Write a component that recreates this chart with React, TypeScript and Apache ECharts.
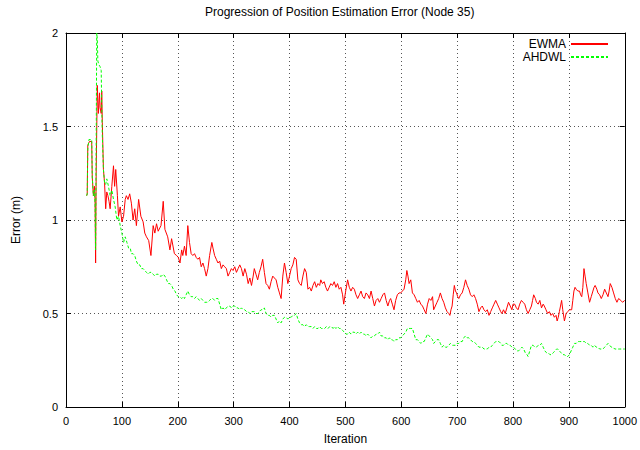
import React, { useEffect, useRef } from "react";
import * as echarts from "echarts";

const titleText = "Progression of Position Estimation Error (Node 35)";
const xName = "Iteration";
const yName = "Error (m)";
const seriesNames = ["EWMA", "AHDWL"];

const ewmaIter = [37,38,39,42,46,47,49,51,52,53,54,56,58,60,61,63,64,65,67,69,71,73,75,77,79,82,85,87,89,92,94,97,100,103,106,108,111,114,117,120,123,126,130,134,138,141,144,148,152,156,159,162,165,170,174,177,182,186,189,194,198,201,204,207,209,212,215,218,221,224,227,230,233,236,239,242,245,248,251,254,257,261,263,266,269,272,275,278,281,284,287,290,293,296,299,302,305,308,311,314,317,320,323,326,329,332,335,337,340,343,346,349,352,355,358,361,364,367,370,373,376,379,382,385,388,391,394,397,400,403,406,409,412,415,418,421,424,427,430,433,436,439,442,445,448,451,454,456,459,462,465,468,471,474,477,480,483,486,489,492,495,497,500,504,507,510,513,516,519,522,525,528,531,534,537,540,543,546,549,552,555,558,561,564,567,570,573,576,579,581,584,587,590,593,596,599,602,605,608,610,612,614,617,620,623,626,629,632,635,638,641,644,647,650,653,656,658,661,664,667,670,673,676,679,682,685,687,689,691,693,695,697,699,701,703,706,709,712,715,718,721,724,727,730,733,736,739,742,745,748,751,754,757,760,763,766,769,772,775,778,780,783,786,789,792,795,798,800,803,806,809,812,815,818,821,824,827,830,833,835,837,840,842,845,848,851,854,856,859,862,865,868,871,874,877,879,881,883,885,887,889,892,895,898,901,905,907,909,911,913,916,919,921,923,925,927,929,931,934,937,940,943,945,947,950,952,955,958,961,964,967,970,972,974,977,980,983,986,989,993,996,1000];
const ewmaErr = [1.13,1.14,1.40,1.42,1.42,1.23,1.13,1.18,1.10,0.77,1.25,1.72,1.57,1.68,1.60,1.57,1.69,1.52,1.27,1.20,1.06,1.15,1.13,1.10,1.06,1.18,1.29,1.18,1.27,1.13,1.02,1.07,0.99,1.02,1.11,1.13,1.11,1.14,1.09,1.00,1.06,0.97,1.11,1.02,0.99,0.93,0.91,0.89,0.81,0.97,0.93,0.98,0.94,0.97,1.10,0.95,0.91,0.84,0.90,0.82,0.81,0.80,0.77,0.84,0.81,0.86,0.81,0.97,0.88,0.82,0.81,0.82,0.80,0.79,0.80,0.75,0.77,0.74,0.70,0.74,0.81,0.88,0.85,0.81,0.79,0.77,0.78,0.74,0.76,0.75,0.74,0.70,0.72,0.74,0.73,0.75,0.72,0.74,0.76,0.74,0.70,0.74,0.71,0.66,0.69,0.65,0.70,0.74,0.71,0.68,0.72,0.75,0.79,0.72,0.66,0.65,0.63,0.67,0.70,0.69,0.68,0.64,0.61,0.58,0.70,0.77,0.72,0.66,0.70,0.74,0.76,0.80,0.79,0.68,0.66,0.65,0.70,0.74,0.72,0.63,0.64,0.62,0.65,0.67,0.64,0.66,0.65,0.68,0.66,0.67,0.64,0.62,0.64,0.66,0.65,0.67,0.64,0.66,0.63,0.64,0.60,0.55,0.61,0.68,0.64,0.62,0.64,0.63,0.60,0.58,0.60,0.62,0.59,0.58,0.61,0.60,0.58,0.62,0.58,0.54,0.57,0.58,0.56,0.58,0.60,0.61,0.57,0.54,0.57,0.58,0.55,0.52,0.57,0.60,0.61,0.61,0.62,0.63,0.68,0.73,0.70,0.66,0.68,0.61,0.60,0.58,0.56,0.57,0.55,0.54,0.52,0.50,0.55,0.58,0.57,0.59,0.52,0.54,0.56,0.58,0.61,0.58,0.56,0.53,0.51,0.50,0.49,0.52,0.54,0.60,0.65,0.62,0.61,0.59,0.58,0.60,0.61,0.64,0.68,0.65,0.63,0.60,0.59,0.60,0.58,0.55,0.51,0.53,0.54,0.52,0.51,0.52,0.49,0.51,0.53,0.55,0.57,0.55,0.53,0.51,0.50,0.52,0.50,0.53,0.56,0.54,0.52,0.55,0.55,0.53,0.52,0.55,0.57,0.56,0.55,0.52,0.50,0.52,0.54,0.57,0.60,0.58,0.56,0.55,0.57,0.53,0.55,0.54,0.52,0.50,0.51,0.49,0.50,0.48,0.49,0.46,0.48,0.51,0.54,0.57,0.52,0.46,0.50,0.51,0.52,0.52,0.57,0.62,0.64,0.63,0.62,0.62,0.60,0.59,0.64,0.74,0.70,0.66,0.61,0.56,0.59,0.62,0.64,0.65,0.63,0.61,0.60,0.58,0.60,0.63,0.61,0.59,0.62,0.66,0.64,0.61,0.58,0.56,0.58,0.57,0.56,0.57];

const ahdwlIter = [37,38,39,41,46,47,49,51,52,53,54,55,56,57,59,61,63,64,65,67,69,71,73,76,79,82,85,88,91,94,97,100,103,106,109,112,115,117,120,123,126,129,132,135,138,141,144,147,150,153,156,159,162,165,168,171,174,177,180,183,186,189,192,195,198,201,204,207,210,212,215,218,221,224,227,230,233,236,239,242,245,248,251,254,257,260,263,266,269,272,275,278,281,284,287,290,293,296,299,302,305,308,311,314,317,320,323,326,329,332,335,337,340,343,346,349,352,355,358,361,364,367,370,373,376,379,382,385,388,391,394,397,400,403,406,409,412,415,418,421,424,427,430,433,436,439,442,445,448,451,454,457,460,463,466,469,472,475,478,480,483,486,489,492,495,498,501,504,507,510,513,516,519,522,525,528,531,534,537,540,543,546,549,552,555,558,561,564,567,570,573,576,579,581,584,587,590,593,596,599,602,605,608,611,614,617,620,623,626,629,632,635,638,641,644,647,650,653,656,658,661,664,667,670,673,676,679,682,685,688,691,694,697,700,703,706,709,712,715,718,721,724,727,730,733,736,739,742,745,748,751,754,757,760,763,766,769,772,775,778,780,783,786,789,792,795,798,801,804,807,810,813,816,819,822,825,827,830,833,836,839,842,845,848,851,854,857,860,863,866,869,872,875,878,880,883,886,889,892,895,898,901,904,907,910,913,916,919,922,925,928,931,934,937,940,943,946,949,952,955,958,961,964,967,970,973,976,979,982,985,988,991,994,997,1000];
const ahdwlErr = [1.13,1.14,1.38,1.43,1.43,1.23,1.13,1.16,1.08,0.84,1.40,2.00,1.97,1.85,1.83,1.82,1.80,1.60,1.45,1.27,1.20,1.19,1.22,1.18,1.13,1.16,1.11,1.07,1.00,1.02,0.97,0.93,0.88,0.91,0.88,0.85,0.85,0.82,0.82,0.81,0.78,0.76,0.76,0.74,0.74,0.73,0.72,0.71,0.72,0.72,0.71,0.70,0.71,0.71,0.70,0.70,0.71,0.70,0.68,0.66,0.66,0.65,0.63,0.62,0.60,0.59,0.59,0.58,0.59,0.58,0.60,0.62,0.60,0.59,0.59,0.58,0.59,0.58,0.57,0.58,0.57,0.56,0.56,0.56,0.57,0.58,0.58,0.57,0.58,0.58,0.55,0.52,0.53,0.52,0.53,0.54,0.54,0.53,0.54,0.54,0.53,0.53,0.52,0.53,0.52,0.52,0.51,0.51,0.50,0.51,0.51,0.51,0.50,0.50,0.51,0.52,0.52,0.53,0.50,0.49,0.49,0.48,0.49,0.49,0.47,0.45,0.46,0.45,0.47,0.48,0.48,0.47,0.48,0.48,0.49,0.49,0.50,0.47,0.45,0.44,0.44,0.43,0.44,0.43,0.43,0.43,0.42,0.43,0.42,0.42,0.43,0.42,0.42,0.42,0.43,0.42,0.43,0.43,0.42,0.43,0.42,0.43,0.42,0.42,0.41,0.40,0.39,0.39,0.40,0.39,0.40,0.40,0.39,0.40,0.39,0.40,0.39,0.39,0.38,0.39,0.38,0.37,0.38,0.38,0.39,0.39,0.40,0.38,0.38,0.37,0.37,0.36,0.37,0.36,0.36,0.35,0.36,0.36,0.37,0.37,0.38,0.39,0.40,0.42,0.42,0.42,0.42,0.39,0.36,0.36,0.35,0.34,0.35,0.35,0.37,0.39,0.38,0.37,0.36,0.34,0.35,0.36,0.36,0.34,0.32,0.33,0.32,0.32,0.33,0.34,0.33,0.33,0.33,0.34,0.34,0.35,0.35,0.37,0.38,0.37,0.37,0.36,0.35,0.35,0.34,0.33,0.32,0.32,0.32,0.31,0.31,0.31,0.32,0.32,0.33,0.34,0.35,0.35,0.35,0.34,0.33,0.33,0.34,0.34,0.33,0.33,0.32,0.32,0.31,0.30,0.30,0.31,0.32,0.31,0.29,0.28,0.27,0.30,0.33,0.33,0.32,0.32,0.33,0.33,0.34,0.32,0.30,0.29,0.29,0.28,0.28,0.29,0.30,0.31,0.31,0.30,0.29,0.28,0.28,0.27,0.27,0.28,0.30,0.32,0.34,0.34,0.35,0.35,0.35,0.35,0.35,0.34,0.34,0.33,0.33,0.32,0.33,0.32,0.32,0.31,0.31,0.31,0.32,0.33,0.34,0.33,0.32,0.32,0.31,0.31,0.31,0.31,0.31,0.31,0.31];

const xTicks = [0, 100, 1000];
const yTicks = [0, 0.5, 2];

const FONT = "'Liberation Sans', Arial, Helvetica, sans-serif";

export default function App() {
  const ref = useRef<HTMLDivElement>(null);
  useEffect(() => {
    if (!ref.current) return;
    const chart = echarts.init(ref.current, null, { renderer: "svg" });
    const ewmaData = ewmaIter.map((x, i) => [x, ewmaErr[i]]);
    const ahdwlData = ahdwlIter.map((x, i) => [x, ahdwlErr[i]]);
    const gridLine = { show: true, lineStyle: { color: "#555", type: [1, 3] as any, width: 1 } };
    const tick = { show: true, inside: true, length: 5, lineStyle: { color: "#000", width: 1 } };
    const axisLine = { show: true, onZero: false, lineStyle: { color: "#000", width: 1 } };
    const legendBase = {
      right: 31,
      padding: 0,
      orient: "vertical",
      align: "right",
      itemWidth: 37,
      itemHeight: 10,
      itemStyle: { color: "rgba(0,0,0,0)", borderColor: "rgba(0,0,0,0)", borderWidth: 0 },
      textStyle: { fontSize: 12, color: "#000", fontFamily: FONT },
    };
    chart.setOption({
      animation: false,
      backgroundColor: "#fff",
      textStyle: { fontFamily: FONT },
      title: {
        text: titleText,
        left: 205,
        top: 6,
        padding: 0,
        textStyle: { fontSize: 12, fontWeight: "normal", color: "#000", fontFamily: FONT },
      },
      legend: [
        { ...legendBase, data: [{ name: seriesNames[0] }], top: 38 },
        { ...legendBase, data: [{ name: seriesNames[1] }], top: 51 },
      ],
      grid: { left: 66, right: 14, top: 33, bottom: 42, containLabel: false },
      xAxis: [
        {
          type: "value",
          min: xTicks[0],
          max: xTicks[2],
          interval: xTicks[1],
          name: xName,
          nameLocation: "middle",
          nameGap: 26,
          nameTextStyle: { fontSize: 12, color: "#000", fontFamily: FONT },
          axisLine,
          axisTick: tick,
          axisLabel: { color: "#000", fontSize: 11, margin: 8, fontFamily: FONT, formatter: (v: number) => String(v) },
          splitLine: gridLine,
        },
        {
          type: "value",
          position: "top",
          min: xTicks[0],
          max: xTicks[2],
          interval: xTicks[1],
          axisLine,
          axisTick: tick,
          axisLabel: { show: false },
          splitLine: { show: false },
        },
      ],
      yAxis: [
        {
          type: "value",
          min: yTicks[0],
          max: yTicks[2],
          interval: yTicks[1],
          name: yName,
          nameLocation: "middle",
          nameGap: 44,
          nameTextStyle: { fontSize: 12, color: "#000", fontFamily: FONT },
          axisLine,
          axisTick: tick,
          axisLabel: { color: "#000", fontSize: 11, margin: 8, fontFamily: FONT, formatter: (v: number) => String(v) },
          splitLine: gridLine,
        },
        {
          type: "value",
          position: "right",
          min: yTicks[0],
          max: yTicks[2],
          interval: yTicks[1],
          axisLine,
          axisTick: tick,
          axisLabel: { show: false },
          splitLine: { show: false },
        },
      ],
      series: [
        {
          name: seriesNames[0],
          type: "line",
          data: ewmaData,
          showSymbol: false,
          symbol: "none",
          clip: true,
          color: "#ff0000",
          lineStyle: { color: "#ff0000", width: 1 },
          z: 3,
        },
        {
          name: seriesNames[1],
          type: "line",
          data: ahdwlData,
          showSymbol: false,
          symbol: "none",
          clip: true,
          color: "#00ff00",
          lineStyle: { color: "#00ff00", width: 1, type: [3, 2] as any },
          z: 4,
        },
      ],
    });
    return () => chart.dispose();
  }, []);
  return <div ref={ref} style={{ width: 640, height: 450, position: "absolute", left: 0, top: 0 }} />;
}
